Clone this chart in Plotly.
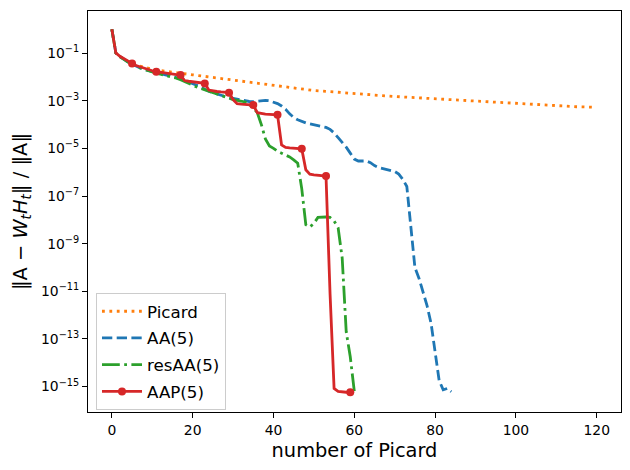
import plotly.graph_objects as go

# values, as log10 of the relative error
picard_it = [0, 1, 2, 3, 5, 8, 12, 16, 20, 25, 30, 35, 40, 45, 50, 55, 60,
             65, 70, 75, 80, 85, 90, 95, 100, 105, 110, 115, 119]
picard_log = [0, -1.0, -1.15, -1.27, -1.44, -1.60, -1.73, -1.83, -1.91, -2.02,
              -2.13, -2.26, -2.38, -2.49, -2.57, -2.63, -2.71, -2.76, -2.82,
              -2.87, -2.92, -2.97, -3.03, -3.08, -3.13, -3.18, -3.22, -3.25, -3.27]

aa_log = [0, -1.0, -1.15, -1.27, -1.37, -1.46, -1.55, -1.62, -1.68, -1.73,
          -1.78, -1.82, -1.86, -1.90, -1.94, -1.98, -2.03, -2.08, -2.14, -2.20,
          -2.27, -2.35, -2.43, -2.52, -2.60, -2.66, -2.72, -2.77, -2.82, -2.86,
          -2.90, -2.94, -2.98, -3.01, -3.03, -3.04, -3.02, -2.99, -2.98, -3.00,
          -3.05, -3.12, -3.22, -3.36, -3.55, -3.70, -3.80, -3.88, -3.93, -3.97,
          -4.00, -4.03, -4.07, -4.12, -4.20, -4.35, -4.55, -4.75, -4.95, -5.20,
          -5.45, -5.53, -5.53, -5.53, -5.60, -5.72, -5.80, -5.85, -5.88, -5.92,
          -5.97, -6.08, -6.30, -6.60, -8.30, -10.0, -10.45, -11.0, -11.6, -12.35,
          -13.6, -14.75, -15.14, -15.08, -15.22]

resaa_log = [0, -1.0, -1.15, -1.27, -1.37, -1.46, -1.55, -1.62, -1.68, -1.74,
             -1.79, -1.84, -1.88, -1.92, -1.96, -2.00, -2.05, -2.12, -2.20, -2.27,
             -2.35, -2.42, -2.48, -2.54, -2.60, -2.66, -2.72, -2.78, -2.85, -2.90,
             -2.95, -2.98, -3.01, -3.05, -3.15, -3.30, -3.50, -4.00, -4.60, -4.90,
             -5.00, -5.12, -5.20, -5.28, -5.36, -5.48, -5.62, -6.70, -8.20, -8.30,
             -8.15, -7.90, -7.88, -7.88, -7.90, -8.05, -8.33, -9.60, -12.7, -13.75,
             -15.2]

aap_log = [0, -0.99, -1.13, -1.24, -1.34, -1.43, -1.52, -1.58, -1.64, -1.69,
           -1.74, -1.78, -1.81, -1.83, -1.85, -1.87, -1.90, -1.92, -2.15, -2.18,
           -2.20, -2.22, -2.25, -2.27, -2.55, -2.59, -2.61, -2.63, -2.645, -2.66,
           -2.95, -3.12, -3.14, -3.16, -3.17, -3.18, -3.50, -3.54, -3.56, -3.57,
           -3.58, -3.59, -4.85, -4.96, -4.98, -4.99, -5.00, -5.02, -5.90, -6.08,
           -6.11, -6.13, -6.15, -6.16, -11.1, -15.08, -15.2, -15.23, -15.24, -15.24]
aap_marks = [5, 11, 17, 23, 29, 35, 41, 47, 53, 59]

ytick_exp = [-1, -3, -5, -7, -9, -11, -13, -15]
xtick_vals = [0, 20, 40, 60, 80, 100, 120]

FONT = "DejaVu Sans"
LW = 2.8

def vals(logs):
    return [10 ** v for v in logs]

fig = go.Figure()

fig.add_trace(go.Scatter(
    x=picard_it, y=vals(picard_log), mode="lines", name="Picard",
    legendgroup="g1",
    line=dict(color="#ff7f0e", width=LW, dash="2.8px,4.6px")))

fig.add_trace(go.Scatter(
    x=list(range(len(aa_log))), y=vals(aa_log), mode="lines", name="AA(5)",
    legendgroup="g2",
    line=dict(color="#1f77b4", width=LW, dash="10.3px,4.4px")))

fig.add_trace(go.Scatter(
    x=list(range(len(resaa_log))), y=vals(resaa_log), mode="lines", name="resAA(5)",
    legendgroup="g3",
    line=dict(color="#2ca02c", width=LW, dash="17.8px,4.4px,2.8px,4.4px")))

# AAP: full line, markers only at restart points, legend proxy
fig.add_trace(go.Scatter(
    x=list(range(len(aap_log))), y=vals(aap_log), mode="lines",
    legendgroup="g4", showlegend=False,
    line=dict(color="#d62728", width=LW)))
fig.add_trace(go.Scatter(
    x=aap_marks, y=vals([aap_log[i] for i in aap_marks]), mode="markers",
    legendgroup="g4", showlegend=False,
    marker=dict(color="#d62728", size=8)))
fig.add_trace(go.Scatter(
    x=[None], y=[None], mode="lines+markers", name="AAP(5)", legendgroup="g4",
    line=dict(color="#d62728", width=LW), marker=dict(color="#d62728", size=8)))

axis_common = dict(
    showline=True, linecolor="black", linewidth=1.1, mirror=True,
    ticks="outside", ticklen=5, tickwidth=1.1, tickcolor="black",
    showgrid=False, zeroline=False, automargin=False,
    tickfont=dict(family=FONT, size=13.9, color="black"),
)

fig.update_xaxes(
    range=[-5.9, 126], tickvals=xtick_vals,
    title=dict(text="number of Picard", font=dict(family=FONT, size=19.4, color="black"),
               standoff=6),
    **axis_common)

fig.update_yaxes(
    type="log", range=[-16.07, 0.77],
    tickvals=[10 ** e for e in ytick_exp],
    ticktext=["10<sup>\u2212%d</sup>" % (-e) for e in ytick_exp],
    title=dict(text="\u2016A \u2212 <i>W</i><sub><i>t</i></sub><i>H</i><sub><i>t</i></sub>\u2016 / \u2016A\u2016",
               font=dict(family=FONT, size=19.4, color="black"), standoff=8),
    **axis_common)

fig.update_layout(
    width=630, height=470,
    margin=dict(l=88, r=9, t=11, b=58),
    paper_bgcolor="white", plot_bgcolor="white",
    font=dict(family=FONT, color="black"),
    legend=dict(
        x=0.015, y=0.297, xanchor="left", yanchor="top",
        bgcolor="rgba(255,255,255,0.8)", bordercolor="#cccccc", borderwidth=1,
        font=dict(family=FONT, size=16.7, color="black"),
        tracegroupgap=2, itemwidth=40,
    ),
)

# drop the default page margin so the figure sits at the window's corner
fig.write_html("out.html", config={"displayModeBar": False},
               post_script="document.body.style.margin='0';")
